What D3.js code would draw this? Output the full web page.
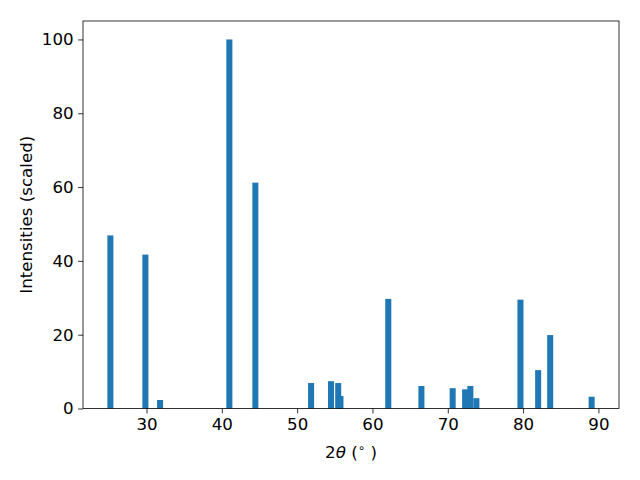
<!DOCTYPE html>
<html>
<head>
<meta charset="utf-8">
<script src="https://cdn.jsdelivr.net/npm/d3@7"></script>
<style>
  body { margin: 0; background: #fff; }
  svg text { font-family: "DejaVu Sans", sans-serif; }
</style>
</head>
<body>
<svg id="chart"></svg>
<script>
// peak positions (2theta, degrees) and scaled intensities
let angles = [25.2, 29.85, 31.8, 41.0, 44.45, 51.85, 54.5, 55.45, 55.75, 62.1, 66.5, 70.65, 72.3, 73.0, 73.8, 79.65, 82.0, 83.6, 89.1]
let intensities = [46.9, 41.7, 2.3, 100, 61.2, 6.9, 7.4, 6.9, 3.4, 29.7, 6.1, 5.5, 5.2, 6.1, 2.8, 29.5, 10.4, 19.9, 3.2]
let xTicks = [30, 40, 50, 60, 70, 80, 90]
let yTicks = [0, 20, 40, 60, 80, 100]
let barWidth = 0.8

let width = 640, height = 480
let margin = { top: 21, left: 83, right: 21, bottom: 71.5 }
let bodyWidth = width - margin.left - margin.right
let bodyHeight = height - margin.top - margin.bottom

let svg = d3.select("#chart").attr("width", width).attr("height", height)

let lo = d3.min(angles) - barWidth / 2
let hi = d3.max(angles) + barWidth / 2
let pad = (hi - lo) * 0.05
let xScale = d3.scaleLinear().domain([lo - pad, hi + pad]).range([0, bodyWidth])
let yScale = d3.scaleLinear().domain([0, d3.max(intensities) * 1.05]).range([bodyHeight, 0])

let body = svg.append("g").attr("transform", `translate(${margin.left},${margin.top})`)

body.selectAll("rect.bar")
    .data(angles.map((a, i) => ({ a: a, v: intensities[i] })))
    .enter().append("rect")
    .attr("class", "bar")
    .attr("x", d => xScale(d.a - barWidth / 2))
    .attr("width", d => xScale(d.a + barWidth / 2) - xScale(d.a - barWidth / 2))
    .attr("y", d => yScale(d.v))
    .attr("height", d => yScale(0) - yScale(d.v))
    .attr("fill", "#1f77b4")

let axisX = d3.axisBottom(xScale).tickValues(xTicks).tickSize(4.9).tickPadding(4.5).tickFormat(d3.format("d"))
let gx = body.append("g").attr("transform", `translate(0,${bodyHeight})`).call(axisX)
let axisY = d3.axisLeft(yScale).tickValues(yTicks).tickSize(4.9).tickPadding(4.5).tickFormat(d3.format("d"))
let gy = body.append("g").call(axisY)
for (let g of [gx, gy]) {
    g.select(".domain").remove()
    g.selectAll("line").attr("stroke", "#000").attr("stroke-width", 0.8)
    g.selectAll("text").style("font-size", "16.67px").attr("fill", "#000")
}

// frame
body.append("rect")
    .attr("width", bodyWidth).attr("height", bodyHeight)
    .attr("fill", "none").attr("stroke", "#000").attr("stroke-width", 0.8)

// axis labels
let xl = svg.append("text")
    .attr("x", margin.left + bodyWidth / 2).attr("y", 458)
    .attr("text-anchor", "middle").style("font-size", "16.67px")
xl.append("tspan").text("2")
xl.append("tspan").text("θ").style("font-style", "italic")
xl.append("tspan").text(" (")
xl.append("tspan").text("∘").attr("dy", -6).style("font-size", "12px")
xl.append("tspan").text(" )").attr("dy", 6)

svg.append("text")
    .attr("transform", `translate(32,${margin.top + bodyHeight / 2}) rotate(-90)`)
    .attr("text-anchor", "middle").style("font-size", "16.67px")
    .text("Intensities (scaled)")
</script>
</body>
</html>
